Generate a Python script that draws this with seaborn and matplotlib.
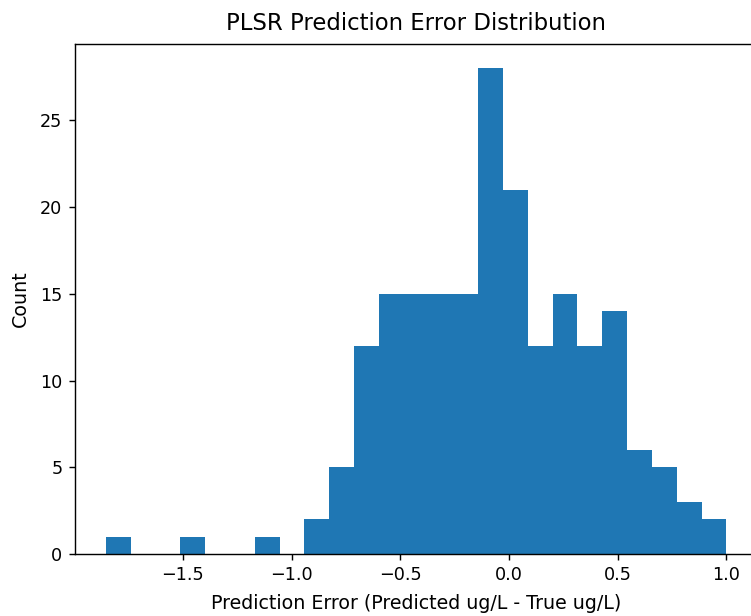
import numpy as np
import pandas as pd
import matplotlib
matplotlib.use("Agg")
import matplotlib.pyplot as plt
import seaborn as sns

# Histogram of PLSR prediction errors: 25 equal-width bins between the
# smallest and largest error, with the number of samples in each bin.
error_min = -1.855
error_max = 1.0
n_bins = 25
bin_counts = [1, 0, 0, 1, 0, 0, 1, 0, 2, 5, 12, 15, 15, 15, 15,
              28, 21, 12, 15, 12, 14, 6, 5, 3, 2]
y_ticks = [0, 5, 10, 15, 20, 25]
x_ticks = [-1.5, -1.0, -0.5, 0.0, 0.5, 1.0]

edges = np.linspace(error_min, error_max, n_bins + 1)
centers = (edges[:-1] + edges[1:]) / 2
df = pd.DataFrame({"error": centers, "count": bin_counts})

plt.rcParams["font.family"] = ["DejaVu Sans"]
fig = plt.figure(figsize=(751 / 127, 616 / 127), dpi=127)
ax = fig.add_axes([74.7 / 751, 62 / 616, 682.8 / 751, 510 / 616])

sns.histplot(data=df, x="error", weights="count", bins=n_bins,
             binrange=(error_min, error_max), ax=ax,
             color="#1f77b4", alpha=1.0, edgecolor="none", linewidth=0)

ax.set_xlim(error_min - 0.05 * (error_max - error_min),
            error_max + 0.05 * (error_max - error_min))
ax.set_ylim(0, max(bin_counts) * 1.05)
ax.set_xticks(x_ticks)
ax.set_yticks(y_ticks)
ax.set_title("PLSR Prediction Error Distribution", fontsize=12.9, pad=8)
ax.set_xlabel("Prediction Error (Predicted ug/L - True ug/L)", fontsize=10.8,
              labelpad=5.5)
ax.set_ylabel("Count", fontsize=10.8, labelpad=6)

fig.savefig("out.png", dpi=127)
